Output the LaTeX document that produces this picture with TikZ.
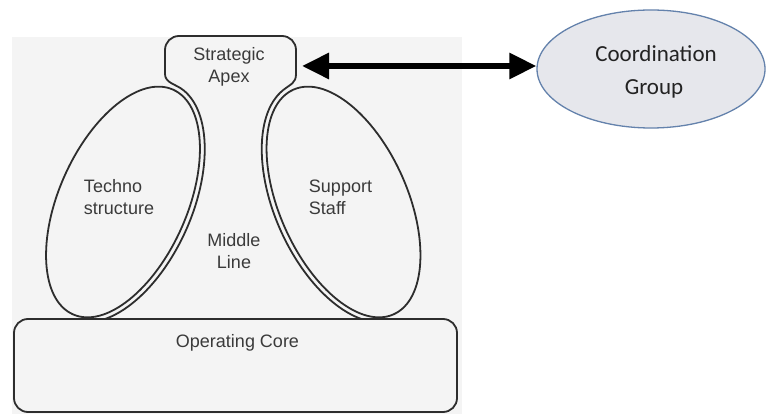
\documentclass[tikz,border=0pt]{standalone}
\usepackage{fontspec}
\setmainfont{Liberation Sans}
\newfontfamily\calfont{Carlito}
\usetikzlibrary{arrows.meta,shapes.geometric}
\definecolor{figbg}{RGB}{244,244,244}
\definecolor{ink}{RGB}{45,45,45}
\definecolor{txt}{RGB}{58,58,58}
\definecolor{cgfill}{RGB}{230,231,236}
\definecolor{cgline}{RGB}{100,130,172}
\begin{document}
\begin{tikzpicture}[x=1pt,y=1pt,
  outline/.style={draw=ink, line width=1.8pt},
  part/.style={outline, fill=figbg, ellipse, inner sep=0pt, minimum width=246pt, minimum height=128pt},
  lbl/.style={text=txt, font=\fontsize{18}{22}\selectfont, inner sep=0pt},
  cglbl/.style={text={rgb,255:red,35;green,35;blue,35}, font=\calfont\fontsize{23}{27}\selectfont, inner sep=0pt, anchor=base},
  biarrow/.style={line width=6pt, {Triangle[length=27pt,width=25pt]}-{Triangle[length=27pt,width=25pt]}}]
\useasboundingbox (0,0) rectangle (767,414);
\fill[white] (0,0) rectangle (767,414);
\fill[figbg] (12,0) rectangle (462,377);
% middle line boundary (outer lines of the double strokes)
\path[rotate around={66:(123,212)}] ({123+128*cos(-8)},{212+69*sin(-8)}) coordinate (tn);
\path[rotate around={-66:(343.5,212)}] ({343.5+128*cos(188)},{212+69*sin(188)}) coordinate (sn);
\draw[outline, rotate around={66:(123,212)}] ({123+128*cos(-8)},{212+69*sin(-8)}) arc[start angle=-8, end angle=-172, x radius=128, y radius=69];
\draw[outline, rotate around={-66:(343.5,212)}] ({343.5+128*cos(188)},{212+69*sin(188)}) arc[start angle=188, end angle=352, x radius=128, y radius=69];
\coordinate (apexBL) at (165,340);
\coordinate (apexBR) at (296,340);
\coordinate (apexR) at (296,348);
\draw[outline] (apexBL) .. controls (165,331) and (175.5,330.1) .. (tn);
\draw[outline] (apexBR) .. controls (296,331) and (291,330.1) .. (sn);
\draw[outline, rounded corners=14pt] (apexBL) -- (165,378) -- (296,378) -- (apexBR);
% operating core
\draw[outline, fill=figbg, rounded corners=14pt] (14,2) rectangle (457,95);
% techno structure and support staff
\node[part, rotate=66] (techno) at (123,212) {};
\node[part, rotate=-66] (support) at (343.5,212) {};
% labels
\node[lbl, align=center] (apexlbl) at (229,347) {Strategic\\Apex};
\node[lbl, align=left] (technolbl) at (119,216.5) {Techno\\structure};
\node[lbl, align=left] (supportlbl) at (340.5,216.5) {Support\\Staff};
\node[lbl, align=center] (middlelbl) at (234,162.5) {Middle\\Line};
\node[lbl, anchor=base] (corelbl) at (237.5,66) {Operating Core};
% coordination group
\node[ellipse, draw=cgline, fill=cgfill, line width=1.3pt, inner sep=0pt, minimum width=228pt, minimum height=118pt] (cg) at (651,345) {};
\node[cglbl] (cglbl1) at (656,352) {Coordination};
\node[cglbl] (cglbl2) at (654,319) {Group};
\draw[biarrow] ([xshift=6pt]apexR) -- (apexR -| cg.west);
\end{tikzpicture}
\end{document}
